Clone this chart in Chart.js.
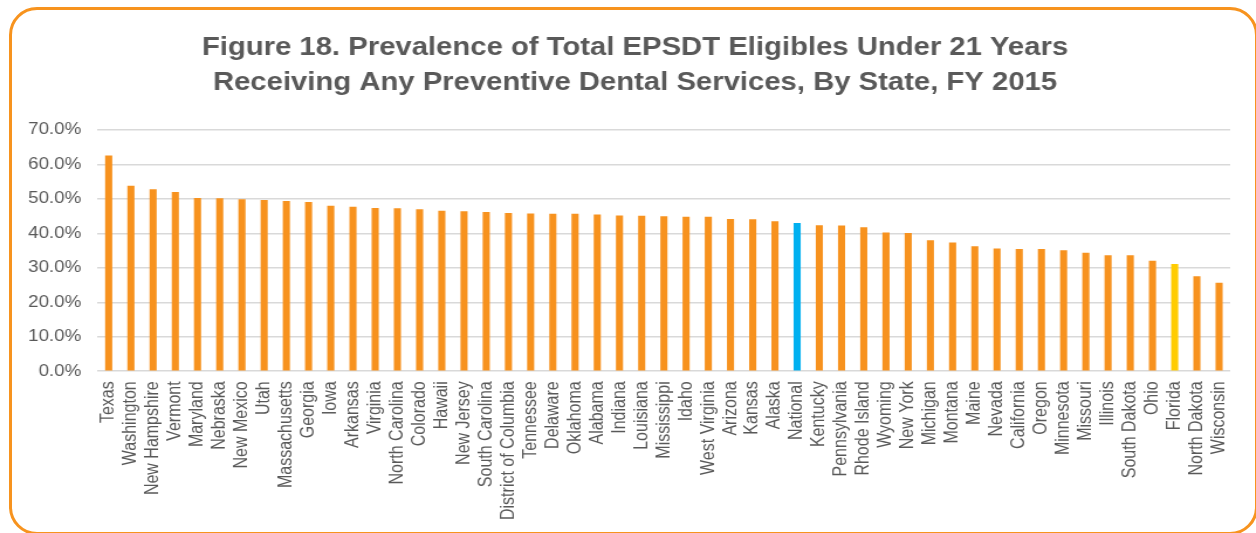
<!DOCTYPE html>
<html>
<head>
<meta charset="utf-8">
<script src="https://cdn.jsdelivr.net/npm/chart.js@4.4.1/dist/chart.umd.min.js"></script>
<style>
    html, body { margin: 0; padding: 0; background: #ffffff; }
    #wrap { position: relative; width: 1256px; height: 533px; overflow: hidden; }
    #frame {
        position: absolute; left: 9px; top: 7px; width: 1249px; height: 528px;
        box-sizing: border-box; border: 3px solid #F7931E; border-radius: 28px;
    }
    /* the original figure is stretched sideways, so the chart is drawn narrower and scaled */
    #chart-box {
        position: absolute; left: 0; top: 0; width: 1073px; height: 533px;
        transform: scaleX(1.1705); transform-origin: 0 0;
    }
</style>
</head>
<body>
<div id="wrap">
    <div id="frame"></div>
    <div id="chart-box"><canvas id="single-chart"></canvas></div>
</div>
<script>
// States, sorted as in the figure (percent of eligibles receiving preventive dental services)
const states = ["Texas", "Washington", "New Hampshire", "Vermont", "Maryland", "Nebraska", "New Mexico", "Utah",
    "Massachusetts", "Georgia", "Iowa", "Arkansas", "Virginia", "North Carolina", "Colorado", "Hawaii",
    "New Jersey", "South Carolina", "District of Columbia", "Tennessee", "Delaware", "Oklahoma", "Alabama",
    "Indiana", "Louisiana", "Mississippi", "Idaho", "West Virginia", "Arizona", "Kansas", "Alaska", "National",
    "Kentucky", "Pennsylvania", "Rhode Island", "Wyoming", "New York", "Michigan", "Montana", "Maine", "Nevada",
    "California", "Oregon", "Minnesota", "Missouri", "Illinois", "South Dakota", "Ohio", "Florida",
    "North Dakota", "Wisconsin"];

const prevalence = [62.6, 53.8, 52.8, 52.0, 50.3, 50.2, 49.9, 49.7,
    49.4, 49.1, 48.0, 47.7, 47.4, 47.3, 47.0, 46.6,
    46.4, 46.2, 45.9, 45.8, 45.7, 45.7, 45.5,
    45.2, 45.1, 45.0, 44.8, 44.8, 44.2, 44.1, 43.5, 43.0,
    42.4, 42.3, 41.8, 40.3, 40.1, 38.0, 37.4, 36.3, 35.6,
    35.5, 35.5, 35.1, 34.4, 33.7, 33.7, 32.1, 31.1,
    27.6, 25.7];

const yTicks = [0, 10, 20, 30, 40, 50, 60, 70];

const titleLines = ["Figure 18. Prevalence of Total EPSDT Eligibles Under 21 Years",
    "Receiving Any Preventive Dental Services, By State, FY 2015"];

// National bar is blue, Florida is highlighted yellow, the rest orange
const barColors = states.map(s => {
    if (s === "National") return "#00B0F0";
    if (s === "Florida") return "#FFCC00";
    return "#F7921E";
});

const font = "'Liberation Sans', Arial, sans-serif";

// the title in the original sits a little right of the canvas centre
const nudgeTitle = {
    id: 'nudgeTitle',
    afterLayout(chart) {
        if (chart.titleBlock) {
            chart.titleBlock.left += 12;
            chart.titleBlock.right += 12;
        }
    }
};

const ctx = document.getElementById("single-chart");
new Chart(ctx, {
    type: 'bar',
    data: {
        labels: states,
        datasets: [{
            label: 'Prevalence',
            data: prevalence,
            backgroundColor: barColors,
            borderWidth: 0,
            barPercentage: 0.32,
            categoryPercentage: 1.0
        }]
    },
    plugins: [nudgeTitle],
    options: {
        responsive: true,
        maintainAspectRatio: false,
        animation: false,
        layout: { padding: { left: 10, right: 22, top: 31, bottom: 11 } },
        plugins: {
            legend: { display: false },
            tooltip: { enabled: false },
            title: {
                display: true,
                text: titleLines,
                color: '#595959',
                font: { family: font, size: 25, weight: 'bold', lineHeight: 1.4 },
                padding: { top: 0, bottom: 29 }
            }
        },
        scales: {
            x: {
                grid: { display: false },
                border: { display: false },
                ticks: {
                    color: '#595959',
                    font: { family: font, size: 16 },
                    maxRotation: 90,
                    minRotation: 90,
                    autoSkip: false,
                    padding: 2
                }
            },
            y: {
                min: 0,
                max: 70,
                afterBuildTicks: axis => { axis.ticks = yTicks.map(v => ({ value: v })); },
                grid: { color: '#D9D9D9', lineWidth: 1.6, drawTicks: false },
                border: { display: false },
                ticks: {
                    color: '#595959',
                    font: { family: font, size: 16 },
                    padding: 14,
                    callback: v => v.toFixed(1) + '%'
                }
            }
        }
    }
});
</script>
</body>
</html>
